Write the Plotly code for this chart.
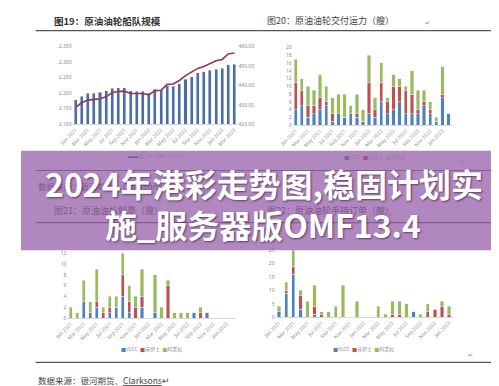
import plotly.graph_objects as go

W, H = 499, 386
def fx(x): return x / W
def fy(y): return 1 - y / H

MON = ['Jan', 'Feb', 'Mar', 'Apr', 'May', 'Jun', 'Jul', 'Aug', 'Sep', 'Oct', 'Nov', 'Dec']
def months(n):
    return [f"{MON[i % 12]} {2021 + i // 12}" for i in range(n)]

# ---- Fig 19: crude tanker fleet size ----
fleet_months = months(27)
fleet_ships = [2179, 2190, 2199, 2200, 2203, 2207, 2215, 2218, 2218, 2208, 2206, 2206, 2200,
               2212, 2211, 2224, 2222, 2230, 2244, 2253, 2265, 2268, 2274, 2277, 2280, 2291, 2293]
fleet_dwt = [428.7, 431.0, 432.4, 432.6, 433.1, 434.1, 436.3, 436.8, 437.0, 435.8, 435.8, 435.8, 435.1,
             437.3, 437.5, 440.5, 440.7, 442.5, 445.0, 447.0, 448.7, 449.7, 451.0, 452.6, 453.3, 456.1, 456.6]

# ---- Fig 20: deliveries (ships) ----
deliv_months = months(26)
deliv_vlcc = [4, 5, 2, 3, 4, 5, 1, 3, 2, 3, 2, 1, 3, 2, 6, 3, 4, 6, 3, 3, 3, 5, 3, 1, 7, 3]
deliv_suez = [7, 4, 3, 2, 3, 1, 2, 0, 0, 0, 1, 0, 8, 2, 5, 3, 6, 4, 6, 5, 1, 1, 1, 0, 1, 0]
deliv_afra = [6, 3, 5, 4, 6, 4, 4, 5, 6, 2, 5, 3, 7, 3, 5, 1, 3, 2, 1, 6, 5, 3, 2, 1, 7, 0]

# ---- Fig 21: demolition (ships) ----
demo_months = months(26)
demo_vlcc = [0, 0, 3, 1, 2, 0, 1, 2, 4, 1, 0, 2, 0, 1, 0, 0, 0, 0, 0, 1, 0, 1, 0, 0, 0, 0]
demo_suez = [0, 0, 0, 0, 1, 1, 1, 0, 4, 2, 2, 2, 0, 0, 0, 6, 0, 0, 0, 0, 1, 0, 0, 0, 0, 0]
demo_afra = [2, 1, 4, 2, 6, 1, 2, 2, 4, 3, 2, 5, 0, 7, 2, 1, 1, 1, 1, 0, 1, 0, 0, 0, 0, 0]

# ---- Fig 22: orderbook (ships) ----
order_months = months(25)
order_vlcc = [2, 9, 16, 3, 0, 1, 0, 0, 0, 0, 0, 0, 0, 0, 0, 0, 0, 0, 0, 2, 0, 0, 0, 0, 0]
order_suez = [0, 1, 3, 5, 0, 3, 1, 0, 0, 0, 0, 0, 0, 0, 0, 0, 1, 1, 0, 0, 0, 2, 3, 4, 1]
order_afra = [2, 3, 7, 2, 6, 8, 1, 2, 4, 12, 0, 6, 0, 0, 4, 1, 5, 5, 5, 0, 1, 3, 0, 2, 3]

BLUE, RED, GREEN = '#4f81bd', '#c0504d', '#9bbb59'
FLEET_BAR, FLEET_LINE = '#4a6fa5', '#9b3446'
TICK = dict(family='Noto Sans', size=5, color='#8c8c8c')

fig = go.Figure()

fig.add_trace(go.Bar(x=fleet_months, y=fleet_ships, marker_color=FLEET_BAR, width=0.5,
                     xaxis='x', yaxis='y', showlegend=False))
fig.add_trace(go.Scatter(x=fleet_months, y=fleet_dwt, mode='lines', line=dict(color=FLEET_LINE, width=1.6),
                         xaxis='x', yaxis='y2', showlegend=False))

for (mths, series, xa, ya, w) in [
    (deliv_months, (deliv_vlcc, deliv_suez, deliv_afra), 'x2', 'y3', 0.55),
    (demo_months, (demo_vlcc, demo_suez, demo_afra), 'x3', 'y4', 0.5),
    (order_months, (order_vlcc, order_suez, order_afra), 'x4', 'y5', 0.48),
]:
    for vals, col in zip(series, (BLUE, RED, GREEN)):
        fig.add_trace(go.Bar(x=mths, y=vals, marker_color=col, width=w,
                             xaxis=xa, yaxis=ya, showlegend=False))

def xax(cats, x0, x1, y):
    return dict(domain=[fx(x0), fx(x1)], anchor=y, type='category',
                categoryorder='array', categoryarray=cats,
                tickvals=cats[::2], ticktext=cats[::2], tickangle=-45,
                tickfont=TICK, showline=True, linecolor='#d9d9d9', linewidth=1,
                showgrid=False, ticks='', zeroline=False, fixedrange=True)

def yax(x, y0, y1, rng, dtick, fmt='', side='left', overlay=None):
    d = dict(domain=[fy(y0), fy(y1)], anchor=x, range=rng, dtick=dtick, tickformat=fmt,
             tickfont=TICK, showgrid=False, zeroline=False, showline=False, ticks='',
             side=side, fixedrange=True)
    if overlay:
        d['overlaying'] = overlay
    return d

fig.update_layout(
    width=W, height=H, margin=dict(l=0, r=0, t=0, b=0),
    paper_bgcolor='white', plot_bgcolor='rgba(0,0,0,0)',
    barmode='stack',
    xaxis=xax(fleet_months, 52.9, 222.2, 'y'),
    yaxis=yax('x', 115, 36, [2100, 2350], 50, ','),
    yaxis2=yax('x', 115, 36, [420, 460], 10, '.2f', side='right', overlay='y'),
    xaxis2=xax(deliv_months, 278.9, 442.1, 'y3'),
    yaxis3=yax('x2', 116, 37, [0, 20], 2),
    xaxis3=xax(demo_months, 47.7, 221.0, 'y4'),
    yaxis4=yax('x3', 312, 246, [0, 12], 2),
    xaxis4=xax(order_months, 261.4, 443.1, 'y5'),
    yaxis5=yax('x4', 311, 243, [0, 25], 5),
)

shapes = []
def hline(y, x0=15, x1=483, color='#555555', w=1.2):
    shapes.append(dict(type='line', xref='paper', yref='paper', x0=fx(x0), x1=fx(x1),
                       y0=fy(y), y1=fy(y), line=dict(color=color, width=w), layer='above'))
hline(20)
hline(162)
hline(215)
hline(357)
# purple banner
shapes.append(dict(type='rect', xref='paper', yref='paper', x0=0, x1=1, y0=fy(243), y1=fy(142),
                   fillcolor='rgba(150,95,170,0.75)', line=dict(width=0), layer='above'))
fig.update_layout(shapes=shapes)

ann = []
def text(x, y, s, size=9, color='#333333', anchor='left', family='Noto Sans CJK SC', weight='normal', shadow=None):
    f = dict(family=family, size=size, color=color, weight=weight)
    if shadow:
        f['shadow'] = shadow
    ann.append(dict(x=fx(x), y=fy(y), xref='paper', yref='paper', text=s, showarrow=False,
                    xanchor=anchor, yanchor='middle', font=f))

UNDER = '#80578f'
UNDER_L = '#9a76a8'
text(32, 10, '图19：原油油轮船队规模', size=9.5, color='#333333', weight='bold')
text(251, 10, '图20：原油油轮交付运力（艘）', size=9, color='#444444')
text(413, 12, '↵', size=6, color='#888888')
# legends
text(108, 147, '<span style="color:#6b5d9f">▬▬</span> 艘   <span style="color:#8f4d77">——</span>DWT million',
     size=5, color=UNDER_L)
text(330, 148, '<span style="color:#6b6aa6">■</span>VLCC  <span style="color:#9c5575">■</span>苏伊士  <span style="color:#8d8f9a">■</span>阿芙拉',
     size=5, color=UNDER_L)
text(448, 153, '↵', size=6, color=UNDER_L)
text(15, 178, '数据来源：银河期货、Clarksons', size=8.5, color=UNDER)
text(32, 203, '图21：原油油拆解量（艘）', size=9, color=UNDER)
text(251, 203, '图22：原油油轮手持订单（艘）', size=9, color=UNDER)
text(375, 207, '↵', size=6, color=UNDER_L)
# bottom legends
text(101, 343, '<span style="color:#4f81bd">■</span>VLCC  <span style="color:#c0504d">■</span>苏伊士  <span style="color:#9bbb59">■</span>阿芙拉',
     size=5, color='#8c8c8c')
text(318, 343, '<span style="color:#4f81bd">■</span>VLCC  <span style="color:#c0504d">■</span>苏伊士  <span style="color:#9bbb59">■</span>阿芙拉',
     size=5, color='#8c8c8c')
text(457, 349, '↵', size=6, color='#888888')
text(15, 375, '数据来源：银河期货、<span style="text-decoration:underline;text-decoration-color:#d04040">Clarksons</span>↵',
     size=8.5, color='#444444')

# banner headline
SH = '1px 1px 2px rgba(60,30,70,0.7)'
text(249, 175, '2024年港彩走势图,稳固计划实', size=32, color='white', anchor='center',
     weight='bold', shadow=SH)
text(248, 216, '施_服务器版OMF13.4', size=32, color='white', anchor='center',
     weight='bold', shadow=SH)

fig.update_layout(annotations=ann)
fig.write_html('out.html')
